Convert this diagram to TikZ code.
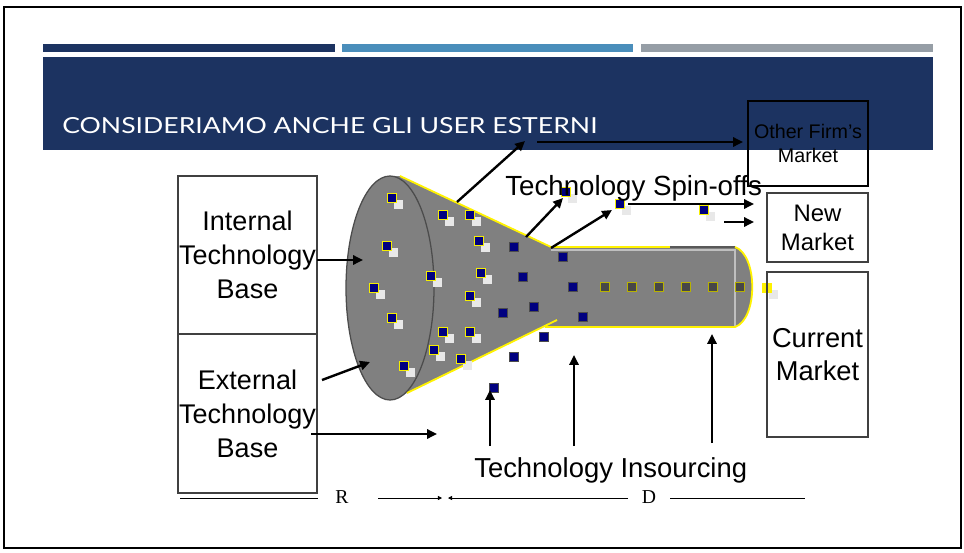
\documentclass[tikz,border=0pt]{standalone}
\usepackage{fontspec}
\setmainfont{Liberation Sans}
\newfontfamily\titlefont{Lato}
\newfontfamily\rdfont{Liberation Serif}
\usetikzlibrary{arrows.meta,shadows}
\definecolor{navybar}{HTML}{1C3361}
\definecolor{bluebar}{HTML}{4A8EBB}
\definecolor{graybar}{HTML}{969EA6}
\definecolor{funnelgray}{HTML}{808080}
\definecolor{chipnavy}{HTML}{000080}
\definecolor{chipyellow}{HTML}{F5EE00}
\tikzset{
    box/.style={draw=black!75, line width=0.8pt, inner sep=0pt, align=center},
    arrow/.style={-{Triangle[length=7pt,width=6.5pt]}, line width=1.7pt},
    thinarrow/.style={-{Triangle[length=3pt,width=3pt]}, line width=0.5pt},
    chip/.style={rectangle, draw=chipyellow, fill=chipnavy, line width=0.9pt, minimum size=6.4pt, inner sep=0pt,
        drop shadow={shadow xshift=4.3pt, shadow yshift=-4.3pt, fill=black!9, opacity=1}},
    darkchip/.style={rectangle, draw=black!70, fill=chipnavy, line width=0.9pt, minimum size=6.6pt, inner sep=0pt},
    tubechip/.style={rectangle, draw=chipyellow!75!black, fill=black!72, line width=0.9pt, minimum size=6.6pt, inner sep=0pt},
}
\begin{document}
\begin{tikzpicture}[x=0.025cm, y=-0.025cm]
    \useasboundingbox (0,0) rectangle (964,552);
    \draw[line width=1.4pt] (4,7) rectangle (961,548);

    % slide header
    \fill[navybar] (43,44) rectangle (335,52);
    \fill[bluebar] (342,44) rectangle (633,52);
    \fill[graybar] (641,44) rectangle (933,52);
    \fill[navybar] (43,57) rectangle (933,150);
    \node[anchor=base west, inner sep=0pt, text=white] (title) at (62,133)
        {\resizebox{13.375cm}{0.4cm}{\titlefont CONSIDERIAMO ANCHE GLI USER ESTERNI}};

    % funnel
    \fill[funnelgray] (400,176) -- (551,247) -- (735,247) .. controls (758,255) and (758,319) .. (735,327)
        -- (543,327) -- (407,393) -- (390,400) -- (390,176) -- cycle;
    \filldraw[fill=funnelgray, draw=black!70, line width=0.9pt] (390,288) ellipse [x radius=44, y radius=112];
    \draw[black!25, line width=0.8pt] (551,250) -- (735,250) -- (735,327);
    \draw[yellow, line width=1.3pt] (400,176) -- (551,247) -- (670,247);
    \draw[black!65, line width=1.3pt] (670,247) -- (735,247);
    \draw[yellow, line width=1.3pt] (735,247) .. controls (758,255) and (758,319) .. (735,327) -- (545,327);
    \draw[yellow, line width=1.3pt] (407,393) -- (557,320);

    % technologies
    \node[chip] (c1) at (392,198) {};
    \node[chip] (c2) at (387,246) {};
    \node[chip] (c3) at (374,288) {};
    \node[chip] (c4) at (392,318) {};
    \node[chip] (c5) at (404,366) {};
    \node[chip] (c6) at (443,215) {};
    \node[chip] (c7) at (470,215) {};
    \node[chip] (c8) at (479,241) {};
    \node[chip] (c9) at (431,276) {};
    \node[chip] (c10) at (481,273) {};
    \node[chip] (c11) at (470,296) {};
    \node[chip] (c12) at (443,332) {};
    \node[chip] (c13) at (470,332) {};
    \node[chip] (c14) at (434,350) {};
    \node[chip] (c15) at (461,359) {};
    \node[chip] (c16) at (566,192) {};
    \node[chip] (c17) at (620,204) {};
    \node[chip] (c18) at (704,210) {};
    \node[chip, fill=yellow, draw=yellow] (c19) at (767,288) {};

    \node[darkchip] (d1) at (514,247) {};
    \node[darkchip] (d2) at (523,277) {};
    \node[darkchip] (d3) at (534,307) {};
    \node[darkchip] (d4) at (503,313) {};
    \node[darkchip] (d5) at (563,257) {};
    \node[darkchip] (d6) at (573,287) {};
    \node[darkchip] (d7) at (583,317) {};
    \node[darkchip] (d8) at (544,337) {};
    \node[darkchip] (d9) at (514,357) {};
    \node[darkchip] (d10) at (494,388) {};

    \node[tubechip] (t1) at (605,287) {};
    \node[tubechip] (t2) at (632,287) {};
    \node[tubechip] (t3) at (659,287) {};
    \node[tubechip] (t4) at (686,287) {};
    \node[tubechip] (t5) at (713,287) {};
    \node[tubechip] (t6) at (740,287) {};

    % boxes
    \node[box, minimum width=3.475cm, minimum height=3.95cm, font=\fontsize{19.2}{24.2}\selectfont] (intbase) at (247.5,255)
        {Internal\\Technology\\Base};
    \node[box, minimum width=3.475cm, minimum height=3.975cm, font=\fontsize{19.2}{24.2}\selectfont] (extbase) at (247.5,413.5)
        {External\\Technology\\Base};
    \node[box, draw=black, minimum width=3cm, minimum height=2.125cm, font=\fontsize{14}{17}\selectfont] (othermkt) at (808,143.5)
        {Other Firm's\\Market};
    \node[box, minimum width=2.525cm, minimum height=1.725cm, font=\fontsize{17}{20.6}\selectfont] (newmkt) at (817.5,227.5)
        {New\\Market};
    \node[box, minimum width=2.525cm, minimum height=4.125cm, font=\fontsize{19.4}{23.5}\selectfont] (curmkt) at (817.5,354.5)
        {Current\\Market};

    \node[anchor=base west, inner sep=0pt, font=\fontsize{19.7}{23}\selectfont] (spinoffs) at (505,195) {Technology Spin-offs};
    \node[anchor=base west, inner sep=0pt, font=\fontsize{19.5}{23}\selectfont] (insourcing) at (474,477) {Technology Insourcing};
    \node[inner sep=0pt, font=\rdfont\fontsize{14}{16}\selectfont] (rlabel) at (342,497) {R};
    \node[inner sep=0pt, font=\rdfont\fontsize{14}{16}\selectfont] (dlabel) at (649,497) {D};

    % arrow ends
    \coordinate (intout) at (317,260);
    \coordinate (intin) at (363,260);
    \coordinate (extout) at (322,380);
    \coordinate (extin) at (370,362);
    \coordinate (extlow) at (311,434);
    \coordinate (extlowend) at (437,434);
    \coordinate (upstart) at (457,202);
    \coordinate (upend) at (525,141);
    \coordinate (otherstart) at (537,142);
    \coordinate (otherend) at (743,142);
    \coordinate (sp1a) at (526,237);
    \coordinate (sp1b) at (563,198);
    \coordinate (sp2a) at (551,248);
    \coordinate (sp2b) at (612,210);
    \coordinate (nm1a) at (628,204);
    \coordinate (nm1b) at (754,204);
    \coordinate (nm2a) at (724,222);
    \coordinate (nm2b) at (754,222);
    \coordinate (in1a) at (490,446);
    \coordinate (in1b) at (490,390);
    \coordinate (in2a) at (574,446);
    \coordinate (in2b) at (574,355);
    \coordinate (in3a) at (712,443);
    \coordinate (in3b) at (712,334);
    \coordinate (r1) at (180,498);
    \coordinate (r2) at (318,498);
    \coordinate (r3) at (378,498);
    \coordinate (r4) at (442,498);
    \coordinate (d1l) at (448,498);
    \coordinate (d2l) at (628,498);
    \coordinate (d3l) at (670,498);
    \coordinate (d4l) at (805,498);

    \draw[arrow] (intout) -- (intin);
    \draw[arrow] (extout) -- (extin);
    \draw[arrow] (extlow) -- (extlowend);
    \draw[arrow] (upstart) -- (upend);
    \draw[arrow] (otherstart) -- (otherend);
    \draw[arrow] (sp1a) -- (sp1b);
    \draw[arrow] (sp2a) -- (sp2b);
    \draw[arrow] (nm1a) -- (nm1b);
    \draw[arrow] (nm2a) -- (nm2b);
    \draw[arrow] (in1a) -- (in1b);
    \draw[arrow] (in2a) -- (in2b);
    \draw[arrow] (in3a) -- (in3b);

    \draw[line width=0.5pt] (r1) -- (r2);
    \draw[thinarrow] (r3) -- (r4);
    \draw[thinarrow] (d2l) -- (d1l);
    \draw[line width=0.5pt] (d3l) -- (d4l);
\end{tikzpicture}
\end{document}
